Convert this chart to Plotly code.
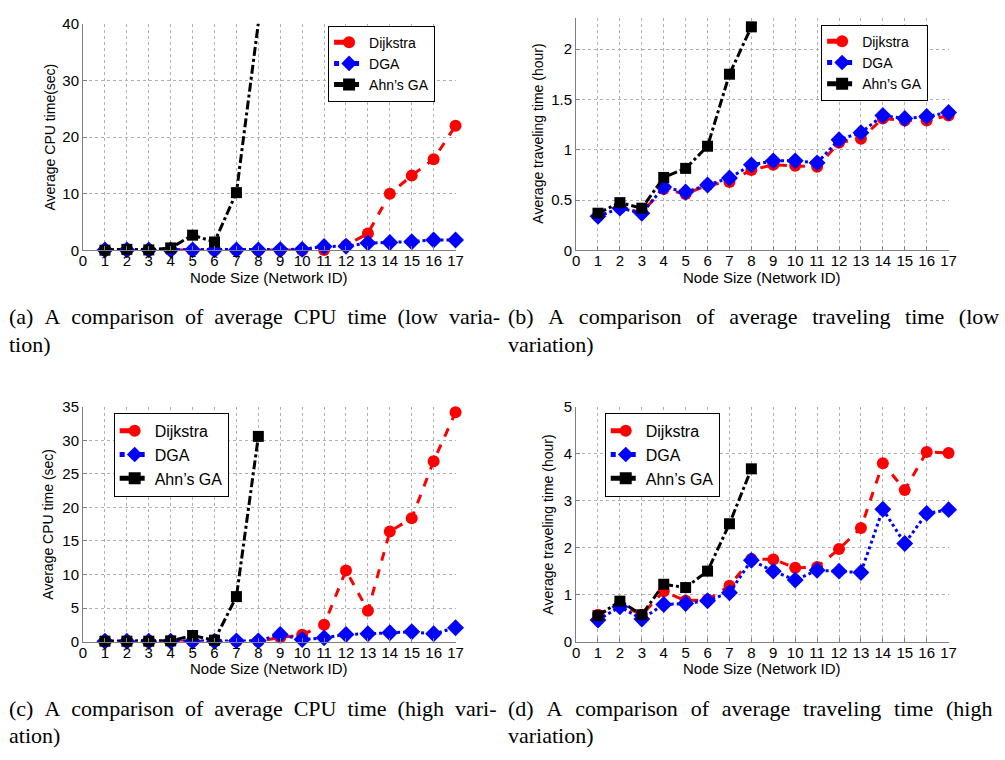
import plotly.graph_objects as go

node_ids = list(range(1, 18))
ahn_ids = list(range(1, 9))
x_ticks = list(range(0, 18))

# (a) CPU time, low variation
a_dijkstra = [0.05, 0.05, 0.05, 0.05, 0.05, 0.05, 0.05, 0.05, 0.05, 0.05, 0.1, 0.9, 3.0, 10.0, 13.2, 16.1, 22.0]
a_dga = [0.1, 0.1, 0.1, 0.1, 0.1, 0.1, 0.1, 0.1, 0.15, 0.2, 0.7, 0.75, 1.3, 1.4, 1.55, 1.85, 1.85]
a_ahn = [0.05, 0.2, 0.1, 0.45, 2.7, 1.5, 10.2, 40.1]

# (b) traveling time, low variation
b_dijkstra = [0.34, 0.42, 0.38, 0.61, 0.56, 0.65, 0.68, 0.80, 0.85, 0.84, 0.83, 1.07, 1.11, 1.31, 1.29, 1.29, 1.34]
b_dga = [0.34, 0.42, 0.37, 0.63, 0.58, 0.65, 0.72, 0.85, 0.89, 0.89, 0.87, 1.10, 1.17, 1.34, 1.31, 1.33, 1.37]
b_ahn = [0.37, 0.475, 0.42, 0.725, 0.815, 1.035, 1.75, 2.22]

# (c) CPU time, high variation
c_dijkstra = [0.05, 0.05, 0.05, 0.05, 0.05, 0.05, 0.05, 0.05, 0.6, 1.0, 2.5, 10.6, 4.6, 16.4, 18.4, 26.9, 34.2]
c_dga = [0.05, 0.05, 0.05, 0.05, 0.05, 0.05, 0.1, 0.1, 1.05, 0.3, 0.55, 1.05, 1.15, 1.3, 1.45, 1.15, 2.05]
c_ahn = [0.05, 0.05, 0.05, 0.1, 0.9, 0.2, 6.7, 30.6]

# (d) traveling time, high variation
d_dijkstra = [0.57, 0.79, 0.57, 1.07, 0.87, 0.89, 1.19, 1.76, 1.75, 1.57, 1.59, 1.97, 2.42, 3.80, 3.23, 4.04, 4.02]
d_dga = [0.46, 0.74, 0.48, 0.79, 0.81, 0.87, 1.04, 1.73, 1.50, 1.31, 1.52, 1.50, 1.47, 2.82, 2.09, 2.73, 2.81]
d_ahn = [0.55, 0.86, 0.57, 1.22, 1.15, 1.50, 2.51, 3.68]

series_names = ["Dijkstra", "DGA", "Ahn\u2019s GA"]
y_titles = ["Average CPU time(sec)", "Average traveling time (hour)",
            "Average CPU time (sec)", "Average traveling time (hour)"]
x_title = "Node Size (Network ID)"
captions = [
    ["(a)  A comparison of average CPU time (low varia-", "tion)"],
    ["(b)  A comparison of average traveling time (low", "variation)"],
    ["(c)  A comparison of average CPU time (high vari-", "ation)"],
    ["(d)  A comparison of average traveling time (high", "variation)"],
]
# inter-word gaps used to imitate the justified caption lines
caption_gaps = ["\u2002", "\u2002\u2006", "\u2002", "\u2002\u200a"]

W, H = 1005, 760
def fx(px):
    return px / W
def fy(py):
    return 1 - py / H

panels = [
    dict(data=(a_dijkstra, a_dga, a_ahn), box=(80, 457, 15, 247), yr=[0, 40], dy=10,
         leg=(328, 17), legfont=14, ytx=47),
    dict(data=(b_dijkstra, b_dga, b_ahn), box=(579, 956, 9, 247), yr=[0, 2.31], dy=0.5,
         leg=(827, 16), legfont=14, ytx=541),
    dict(data=(c_dijkstra, c_dga, c_ahn), box=(80, 457, 407, 647), yr=[0, 35], dy=5,
         leg=(111, 413), legfont=16, ytx=45),
    dict(data=(d_dijkstra, d_dga, d_ahn), box=(579, 956, 407, 647), yr=[0, 5], dy=1,
         leg=(608, 413), legfont=16, ytx=551),
]

styles = [
    dict(color="#ff0000", dash="dash", symbol="circle", size=12),
    dict(color="#0000ff", dash="dot", symbol="diamond", size=13),
    dict(color="#000000", dash="dashdot", symbol="square", size=11),
]

fig = go.Figure()
layout = dict(width=W, height=H, margin=dict(l=0, r=0, t=0, b=0),
              paper_bgcolor="white", plot_bgcolor="white", showlegend=True)
annotations = []

for i, p in enumerate(panels):
    k = "" if i == 0 else str(i + 1)
    x0, x1, y0, y1 = p["box"]
    legname = "legend" if i == 0 else "legend" + str(i + 1)
    xs_list = [node_ids, node_ids, ahn_ids]
    for j in range(3):
        st = styles[j]
        fig.add_trace(go.Scatter(
            x=xs_list[j], y=p["data"][j], name=series_names[j], mode="lines+markers",
            line=dict(color=st["color"], dash=st["dash"], width=3),
            marker=dict(symbol=st["symbol"], size=st["size"], color=st["color"]),
            xaxis="x" + k, yaxis="y" + k, legend=legname, cliponaxis=False))
    axcommon = dict(showline=True, linecolor="#808080", linewidth=1, mirror=False,
                    showgrid=True, gridcolor="#b0b0b0", griddash="dot", gridwidth=1,
                    zeroline=False, ticks="inside", ticklen=4, tickcolor="#808080",
                    tickfont=dict(family="Liberation Sans, Arial", size=15, color="black"))
    layout["xaxis" + k] = dict(axcommon, domain=[fx(x0), fx(x1)], anchor="y" + k,
                               range=[0, 17], tickmode="array", tickvals=x_ticks,
                               ticklabelstandoff=-3)
    layout["yaxis" + k] = dict(axcommon, domain=[fy(y1), fy(y0)], anchor="x" + k,
                               range=p["yr"], dtick=p["dy"], tick0=0)
    layout[legname] = dict(x=fx(p["leg"][0]), y=fy(p["leg"][1]), xanchor="left", yanchor="top",
                           xref="paper", yref="paper",
                           bgcolor="white", bordercolor="black", borderwidth=1,
                           font=dict(family="Liberation Sans, Arial", size=p["legfont"], color="black"),
                           tracegroupgap=0, itemsizing="constant")
    # axis titles
    annotations.append(dict(text=y_titles[i], x=fx(p["ytx"]), y=fy((y0 + y1) / 2), xref="paper",
                            yref="paper", textangle=-90, showarrow=False,
                            xanchor="center", yanchor="middle",
                            font=dict(family="Liberation Sans, Arial", size=14, color="black")))
    annotations.append(dict(text=x_title, x=fx((x0 + x1) / 2), y=fy(y1 + 28), xref="paper",
                            yref="paper", showarrow=False, xanchor="center", yanchor="middle",
                            font=dict(family="Liberation Sans, Arial", size=15, color="black")))
    cx = 3 if i % 2 == 0 else 508
    cy = 315 if i < 2 else 715
    for li, line in enumerate(captions[i]):
        txt = line.replace("  ", " ").replace(" ", caption_gaps[i]) if li == 0 else line
        annotations.append(dict(text=txt, x=fx(cx), y=fy(cy + 28 * li), xref="paper", yref="paper",
                                xanchor="left", yanchor="middle", showarrow=False,
                                font=dict(family="Liberation Serif, Times New Roman", size=22,
                                          color="black")))

layout["annotations"] = annotations
fig.update_layout(**layout)
fig.write_html("out.html", config={"displayModeBar": False},
               post_script="document.body.style.margin='0';document.body.style.overflow='hidden';")
